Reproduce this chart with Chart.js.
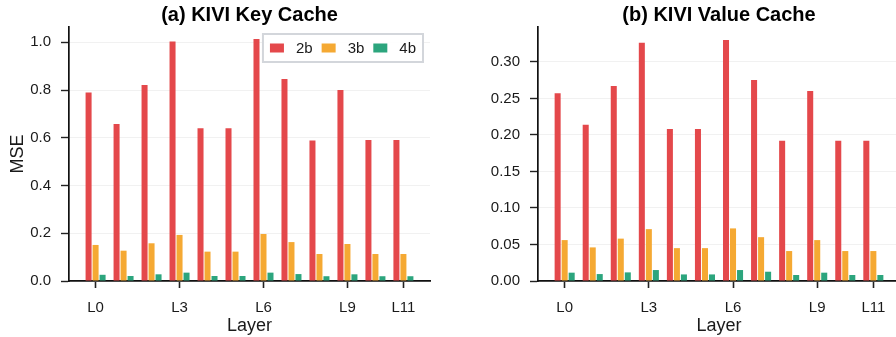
<!DOCTYPE html>
<html lang="en">
<head>
    <meta charset="UTF-8">
    <title>KIVI Key / Value Cache MSE</title>
    <script src="https://cdn.jsdelivr.net/npm/chart.js"></script>
    <style>
        html, body { margin: 0; padding: 0; background: #fff; overflow: hidden; }
        #wrap { position: relative; width: 896px; height: 337px; overflow: hidden; }
        .box { position: absolute; top: 0; height: 337px; }
        #leftBox { left: 0; width: 448px; }
        #rightBox { left: 448px; width: 452px; }
    </style>
</head>
<body>
<div id="wrap">
    <div class="box" id="leftBox"><canvas id="keyChart"></canvas></div>
    <div class="box" id="rightBox"><canvas id="valChart"></canvas></div>
</div>
<script>
// layers 0..11
const layers = [0, 1, 2, 3, 4, 5, 6, 7, 8, 9, 10, 11];
const shownLayers = [0, 3, 6, 9, 11];

// (a) key cache MSE
const key2b = [0.790, 0.658, 0.821, 1.003, 0.640, 0.640, 1.014, 0.846, 0.589, 0.800, 0.591, 0.591];
const key3b = [0.151, 0.127, 0.158, 0.193, 0.123, 0.123, 0.197, 0.163, 0.113, 0.155, 0.113, 0.113];
const key4b = [0.026, 0.021, 0.028, 0.035, 0.021, 0.021, 0.035, 0.029, 0.020, 0.028, 0.020, 0.020];
const keyTicks = [0, 0.2, 0.4, 0.6, 0.8, 1.0];

// (b) value cache MSE
const val2b = [0.257, 0.214, 0.267, 0.326, 0.208, 0.208, 0.330, 0.275, 0.192, 0.260, 0.192, 0.192];
const val3b = [0.056, 0.046, 0.058, 0.071, 0.045, 0.045, 0.072, 0.060, 0.041, 0.056, 0.041, 0.041];
const val4b = [0.0114, 0.0095, 0.0118, 0.015, 0.009, 0.009, 0.015, 0.0127, 0.0082, 0.0114, 0.0082, 0.0082];
const valTicks = [0, 0.05, 0.10, 0.15, 0.20, 0.25, 0.30];

const bitLabels = ['2b', '3b', '4b'];
const colors = ['#E4484B', '#F5A933', '#2CA57D'];
const FONT = "'Liberation Sans', Arial, Helvetica, sans-serif";
const TXT = '#1a1a1a';

function pts(vals) {
    return layers.map((x, i) => ({ x: x, y: vals[i] }));
}

function makeDatasets(series) {
    return series.map((s, i) => ({
        label: bitLabels[i],
        data: pts(s),
        backgroundColor: colors[i],
        borderWidth: 0,
        categoryPercentage: 0.75,
        barPercentage: 0.86
    }));
}

// legend drawn inside the plot area, upper right
const boxLegend = {
    id: 'boxLegend',
    afterDatasetsDraw(chart) {
        const ctx = chart.ctx, ca = chart.chartArea;
        ctx.save();
        ctx.font = '15px ' + FONT;
        const items = chart.data.datasets.map(d => ({ text: d.label, color: d.backgroundColor, w: ctx.measureText(d.label).width }));
        let w = 7 + 7 - 9;
        items.forEach(it => { w += 14 + 12 + it.w + 9; });
        const h = 28;
        const x0 = ca.right - 7 - w, y0 = ca.top + 7;
        ctx.fillStyle = 'rgba(255,255,255,0.9)';
        ctx.fillRect(x0, y0, w, h);
        ctx.strokeStyle = '#d3d6db';
        ctx.lineWidth = 2;
        ctx.strokeRect(x0, y0, w, h);
        let x = x0 + 7;
        const cy = y0 + h / 2;
        ctx.textBaseline = 'middle';
        ctx.textAlign = 'left';
        items.forEach(it => {
            ctx.fillStyle = it.color;
            ctx.fillRect(x, cy - 4.5, 14, 9);
            ctx.fillStyle = TXT;
            ctx.fillText(it.text, x + 26, cy + 0.5);
            x += 14 + 12 + it.w + 9;
        });
        ctx.restore();
    }
};

function makeChart(id, title, series, yMax, yTicks, decimals, yWidth, yTitle, padRight, plugins) {
    return new Chart(document.getElementById(id), {
        type: 'bar',
        data: { datasets: makeDatasets(series) },
        options: {
            responsive: true,
            maintainAspectRatio: false,
            animation: false,
            layout: { padding: { left: 0, right: padRight, top: 0, bottom: 0 } },
            plugins: {
                legend: { display: false },
                tooltip: { enabled: false },
                title: {
                    display: true,
                    text: title,
                    fullSize: false,
                    color: '#000',
                    font: { family: FONT, size: 20, weight: 'bold', lineHeight: 1.2 },
                    padding: { top: 3, bottom: 0 }
                }
            },
            scales: {
                x: {
                    type: 'linear',
                    offset: false,
                    min: -0.95,
                    max: 11.95,
                    afterBuildTicks: s => { s.ticks = shownLayers.map(v => ({ value: v })); },
                    afterFit: s => { s.height = 56; },
                    ticks: {
                        callback: v => 'L' + v,
                        color: TXT,
                        font: { family: FONT, size: 15 },
                        padding: 11,
                        maxRotation: 0,
                        autoSkip: false
                    },
                    grid: { offset: false, drawOnChartArea: false, drawTicks: true, tickLength: 7, tickColor: '#222', tickWidth: 1.6 },
                    border: { display: true, color: '#111', width: 1.7 },
                    title: {
                        display: true,
                        text: 'Layer',
                        color: TXT,
                        font: { family: FONT, size: 18 },
                        padding: { top: 0, bottom: 0 }
                    }
                },
                y: {
                    min: 0,
                    max: yMax,
                    afterBuildTicks: s => { s.ticks = yTicks.map(v => ({ value: v })); },
                    afterFit: s => { s.width = yWidth; },
                    ticks: {
                        callback: v => v.toFixed(decimals),
                        color: TXT,
                        font: { family: FONT, size: 15 },
                        padding: 10
                    },
                    grid: { color: '#f1f1f1', lineWidth: 1, drawTicks: true, tickLength: 8, tickColor: '#222', tickWidth: 1.4 },
                    border: { display: true, color: '#111', width: 1.7 },
                    title: {
                        display: !!yTitle,
                        text: yTitle || '',
                        color: TXT,
                        font: { family: FONT, size: 18 },
                        padding: { top: 7, bottom: 0 }
                    }
                }
            }
        },
        plugins: plugins
    });
}

makeChart('keyChart', '(a) KIVI Key Cache', [key2b, key3b, key4b], 1.064, keyTicks, 1, 69, 'MSE', 18, [boxLegend]);
makeChart('valChart', '(b) KIVI Value Cache', [val2b, val3b, val4b], 0.3477, valTicks, 2, 90, '', 0, []);
</script>
</body>
</html>
